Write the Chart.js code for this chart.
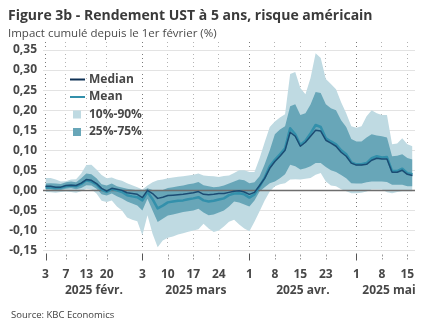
<!DOCTYPE html>
<html lang="fr">
<head>
<meta charset="utf-8">
<title>Figure 3b - Rendement UST à 5 ans, risque américain</title>
<script src="https://cdn.jsdelivr.net/npm/chart.js@4.4.1/dist/chart.umd.min.js"></script>
<style>
  html, body { margin: 0; padding: 0; background: #fff; }
  #wrap { position: relative; width: 432px; height: 334px; overflow: hidden; font-family: 'Open Sans', sans-serif; }
  #chart { position: absolute; left: 0; top: 0; }
  .title { position: absolute; left: 8px; top: 5px; font-size: 14px; font-weight: 700; color: #3a3a3a; white-space: nowrap; line-height: normal; }
  .subtitle { position: absolute; left: 8px; top: 25px; font-size: 11.5px; color: #4a4a4a; white-space: nowrap; line-height: normal; }
  .source { position: absolute; left: 11px; top: 308px; font-size: 9.5px; color: #404040; white-space: nowrap; line-height: normal; }
</style>
</head>
<body>
<div id="wrap">
  <canvas id="chart" width="432" height="334"></canvas>
  <div class="title">Figure 3b - Rendement UST à 5 ans, risque américain</div>
  <div class="subtitle">Impact cumulé depuis le 1er février (%)</div>
  <div class="source">Source: KBC Economics</div>
</div>
<script>
// ---------------------------------------------------------------------------
// Data: trading days (US bond market) and the distribution of the impact
// ---------------------------------------------------------------------------
const dates = [
  '2025-02-03', '2025-02-04', '2025-02-05', '2025-02-06', '2025-02-07',
  '2025-02-10', '2025-02-11', '2025-02-12', '2025-02-13', '2025-02-14',
  '2025-02-18', '2025-02-19', '2025-02-20', '2025-02-21', '2025-02-24',
  '2025-02-25', '2025-02-26', '2025-02-27', '2025-02-28',
  '2025-03-03', '2025-03-04', '2025-03-05', '2025-03-06', '2025-03-07',
  '2025-03-10', '2025-03-11', '2025-03-12', '2025-03-13', '2025-03-14',
  '2025-03-17', '2025-03-18', '2025-03-19', '2025-03-20', '2025-03-21',
  '2025-03-24', '2025-03-25', '2025-03-26', '2025-03-27', '2025-03-28',
  '2025-03-31',
  '2025-04-01', '2025-04-02', '2025-04-03', '2025-04-04', '2025-04-07',
  '2025-04-08', '2025-04-09', '2025-04-10', '2025-04-11', '2025-04-14',
  '2025-04-15', '2025-04-16', '2025-04-17', '2025-04-21', '2025-04-22',
  '2025-04-23', '2025-04-24', '2025-04-25', '2025-04-28', '2025-04-29',
  '2025-04-30',
  '2025-05-01', '2025-05-02', '2025-05-05', '2025-05-06', '2025-05-07',
  '2025-05-08', '2025-05-09', '2025-05-12', '2025-05-13', '2025-05-14',
  '2025-05-15', '2025-05-16'
];

// days that get a label on the x axis
const tickDates = [
  '2025-02-03', '2025-02-07', '2025-02-13', '2025-02-20',
  '2025-03-03', '2025-03-10', '2025-03-17', '2025-03-24',
  '2025-04-01', '2025-04-08', '2025-04-15', '2025-04-23',
  '2025-05-01', '2025-05-08', '2025-05-15'
];
const monthStarts = ['2025-02-03', '2025-03-03', '2025-04-01', '2025-05-01'];
const monthLabels = ['2025 févr.', '2025 mars', '2025 avr.', '2025 mai'];

const yTickValues = [-0.15, -0.10, -0.05, 0, 0.05, 0.10, 0.15, 0.20, 0.25, 0.30, 0.35];

const p10 = [
  -0.004, -0.005, -0.006, -0.004, -0.003, -0.004, -0.006, -0.002, 0.004, 0.002,
  -0.008, -0.026, -0.029, -0.025, -0.040, -0.050, -0.068, -0.073, -0.077, -0.112,
  -0.062, -0.108, -0.142, -0.125, -0.118, -0.115, -0.110, -0.107, -0.103, -0.100,
  -0.097, -0.083, -0.095, -0.104, -0.100, -0.090, -0.078, -0.073, -0.085, -0.095,
  -0.102, -0.078, -0.052, -0.025, -0.003, 0.010, 0.015, 0.018, 0.027, 0.028,
  0.027, 0.029, 0.031, 0.039, 0.043, 0.022, 0.012, 0.010, 0.003, -0.002,
  -0.007, -0.007, -0.006, -0.003, 0.002, 0.002, 0.002, -0.005, -0.007, -0.004,
  -0.002, -0.002, -0.002
];
const p25 = [
  0.002, 0.002, 0.000, 0.001, 0.004, 0.005, 0.003, 0.006, 0.013, 0.012,
  0.004, -0.010, -0.013, -0.008, -0.015, -0.020, -0.028, -0.033, -0.038, -0.050,
  -0.021, -0.050, -0.079, -0.071, -0.063, -0.060, -0.057, -0.054, -0.052, -0.050,
  -0.046, -0.055, -0.062, -0.060, -0.055, -0.050, -0.040, -0.028, -0.030, -0.035,
  -0.040, -0.025, -0.003, 0.008, 0.018, 0.022, 0.030, 0.040, 0.064, 0.060,
  0.052, 0.055, 0.060, 0.068, 0.068, 0.058, 0.050, 0.046, 0.038, 0.030,
  0.018, 0.017, 0.017, 0.020, 0.022, 0.022, 0.022, 0.021, 0.014, 0.014,
  0.014, 0.010, 0.010
];
const median = [
  0.010, 0.010, 0.008, 0.008, 0.012, 0.013, 0.012, 0.018, 0.027, 0.025,
  0.017, 0.005, -0.002, 0.005, 0.003, 0.000, -0.006, -0.008, -0.010, -0.018,
  0.000, -0.008, -0.020, -0.017, -0.013, -0.012, -0.011, -0.010, -0.008, -0.006,
  -0.003, -0.010, -0.011, -0.010, -0.008, -0.008, -0.005, -0.002, -0.001, -0.004,
  -0.010, -0.005, 0.012, 0.030, 0.055, 0.072, 0.085, 0.100, 0.145, 0.135,
  0.110, 0.120, 0.135, 0.150, 0.148, 0.125, 0.118, 0.110, 0.095, 0.085,
  0.068, 0.063, 0.063, 0.065, 0.075, 0.080, 0.078, 0.078, 0.045, 0.045,
  0.050, 0.040, 0.037
];
const mean = [
  0.007, 0.008, 0.006, 0.007, 0.010, 0.012, 0.010, 0.016, 0.025, 0.022,
  0.015, 0.002, -0.004, 0.003, 0.000, -0.004, -0.012, -0.015, -0.017, -0.025,
  -0.004, -0.022, -0.045, -0.038, -0.030, -0.028, -0.026, -0.025, -0.022, -0.020,
  -0.017, -0.025, -0.028, -0.026, -0.023, -0.020, -0.012, -0.008, -0.007, -0.010,
  -0.018, -0.010, 0.010, 0.032, 0.060, 0.076, 0.090, 0.105, 0.155, 0.140,
  0.113, 0.124, 0.142, 0.163, 0.158, 0.130, 0.122, 0.115, 0.100, 0.090,
  0.070, 0.065, 0.065, 0.068, 0.080, 0.085, 0.082, 0.083, 0.048, 0.048,
  0.054, 0.043, 0.040
];
const p75 = [
  0.017, 0.018, 0.017, 0.016, 0.020, 0.022, 0.020, 0.030, 0.042, 0.040,
  0.030, 0.015, 0.012, 0.017, 0.010, 0.007, 0.004, 0.002, 0.000, -0.002,
  0.005, 0.001, -0.001, 0.001, 0.006, 0.008, 0.010, 0.012, 0.015, 0.017,
  0.021, 0.013, 0.010, 0.008, 0.009, 0.012, 0.017, 0.022, 0.027, 0.025,
  0.018, 0.020, 0.035, 0.065, 0.100, 0.140, 0.152, 0.160, 0.210, 0.215,
  0.188, 0.192, 0.214, 0.245, 0.243, 0.215, 0.205, 0.200, 0.175, 0.158,
  0.128, 0.122, 0.122, 0.132, 0.140, 0.137, 0.135, 0.132, 0.085, 0.086,
  0.090, 0.081, 0.077
];
const p90 = [
  0.031, 0.031, 0.027, 0.022, 0.023, 0.027, 0.028, 0.042, 0.063, 0.064,
  0.052, 0.038, 0.030, 0.032, 0.027, 0.024, 0.018, 0.013, 0.008, 0.002,
  0.012, 0.020, 0.025, 0.027, 0.030, 0.032, 0.034, 0.035, 0.037, 0.039,
  0.042, 0.037, 0.036, 0.035, 0.033, 0.036, 0.037, 0.043, 0.050, 0.050,
  0.046, 0.046, 0.080, 0.120, 0.158, 0.172, 0.182, 0.190, 0.290, 0.295,
  0.255, 0.240, 0.280, 0.342, 0.330, 0.278, 0.265, 0.252, 0.220, 0.192,
  0.160, 0.156, 0.160, 0.185, 0.200, 0.192, 0.188, 0.188, 0.115, 0.117,
  0.130, 0.115, 0.110
];

// ---------------------------------------------------------------------------
// Styling
// ---------------------------------------------------------------------------
const FONT = "'Open Sans', sans-serif";
const TEXT_COLOR = '#474747';
const LIGHT_BAND = '#bfdae2';
const DARK_BAND = '#68a6b8';
const MEAN_COLOR = '#3390ab';
const MEDIAN_COLOR = '#1b4c73';
const NONE = 'rgba(0,0,0,0)';

function dayLabel(d) {
  return String(parseInt(d.slice(8), 10));
}

// Zero line over the bands, tick marks, month names and the legend
const decorations = {
  id: 'decorations',
  afterDatasetDraw(chart, args) {
    // dataset 3 is the last band drawn; the zero line goes right after it
    if (args.index !== 3) return;
    const { ctx, chartArea } = chart;
    const y = Math.round(chart.scales.y.getPixelForValue(0)) + 0.5;
    ctx.save();
    ctx.strokeStyle = '#6e6e6e';
    ctx.lineWidth = 1.5;
    ctx.beginPath();
    ctx.moveTo(chartArea.left, y);
    ctx.lineTo(chartArea.right, y);
    ctx.stroke();
    ctx.restore();
  },
  afterDraw(chart) {
    const { ctx, chartArea } = chart;
    const xs = chart.scales.x;
    ctx.save();

    // small tick marks under the plot
    tickDates.forEach(d => {
      const px = Math.round(xs.getPixelForValue(dates.indexOf(d))) + 0.5;
      const major = monthStarts.includes(d);
      ctx.strokeStyle = major ? '#555555' : '#9a9a9a';
      ctx.lineWidth = 1;
      ctx.setLineDash(major ? [] : [2, 1.5]);
      ctx.beginPath();
      ctx.moveTo(px, chartArea.bottom + (major ? 3 : 4));
      ctx.lineTo(px, chartArea.bottom + (major ? 10 : 9));
      ctx.stroke();
    });
    ctx.setLineDash([]);

    // month names centred under each month
    ctx.fillStyle = TEXT_COLOR;
    ctx.font = 'bold 12px ' + FONT;
    ctx.textAlign = 'center';
    ctx.textBaseline = 'middle';
    monthStarts.forEach((d, k) => {
      const from = dates.indexOf(d);
      const to = k + 1 < monthStarts.length ? dates.indexOf(monthStarts[k + 1]) : dates.length;
      const cx = (xs.getPixelForValue(from) + xs.getPixelForValue(to)) / 2;
      ctx.fillText(monthLabels[k], cx + (k === monthStarts.length - 1 ? 2 : 0), chartArea.bottom + 40);
    });

    // legend in the top-left corner of the plot
    const ds = chart.data.datasets;
    const entries = [5, 4, 1, 3];
    const lx = chartArea.left + 27;
    ctx.textAlign = 'left';
    entries.forEach((idx, row) => {
      const item = ds[idx];
      const cy = chartArea.top + 37.5 + row * 17.5;
      if (item.fill) {
        ctx.fillStyle = item.backgroundColor;
        ctx.fillRect(lx + 3, cy - 4, 8, 8);
      } else {
        ctx.strokeStyle = idx === 5 ? '#0f3155' : item.borderColor;
        ctx.lineWidth = 2;
        ctx.beginPath();
        ctx.moveTo(lx, cy);
        ctx.lineTo(lx + 15, cy);
        ctx.stroke();
      }
      ctx.fillStyle = TEXT_COLOR;
      ctx.fillText(item.label, lx + 19, cy);
    });
    ctx.restore();
  }
};

const chart = new Chart(document.getElementById('chart'), {
  type: 'line',
  data: {
    labels: dates,
    datasets: [
      { label: 'p10', data: p10, borderColor: NONE, borderWidth: 1, fill: false, order: 5 },
      { label: '10%-90%', data: p90, borderColor: NONE, borderWidth: 1, backgroundColor: LIGHT_BAND, fill: '-1', order: 4 },
      { label: 'p25', data: p25, borderColor: NONE, borderWidth: 1, fill: false, order: 3 },
      { label: '25%-75%', data: p75, borderColor: NONE, borderWidth: 1, backgroundColor: DARK_BAND, fill: '-1', order: 2 },
      { label: 'Mean', data: mean, borderColor: MEAN_COLOR, borderWidth: 2.5, fill: false, order: 1 },
      { label: 'Median', data: median, borderColor: MEDIAN_COLOR, borderWidth: 1.5, fill: false, order: 0 }
    ]
  },
  options: {
    responsive: false,
    animation: false,
    devicePixelRatio: 1,
    elements: {
      point: { radius: 0, hoverRadius: 0 },
      line: { tension: 0, borderJoinStyle: 'round' }
    },
    layout: { padding: { top: 42, right: 17, left: 0, bottom: 0 } },
    plugins: {
      legend: { display: false },
      tooltip: { enabled: false }
    },
    scales: {
      x: {
        type: 'category',
        offset: true,
        border: { display: false, dash: [1, 3] },
        grid: {
          offset: false,
          drawTicks: false,
          lineWidth: ctx => tickDates.includes(dates[ctx.index]) ? 1 : 0,
          color: ctx => monthStarts.includes(dates[ctx.index]) ? '#7a7a7a' : '#b4b4b4'
        },
        ticks: {
          autoSkip: false,
          maxRotation: 0,
          padding: 17,
          color: TEXT_COLOR,
          font: { family: FONT, size: 12, weight: 'bold' },
          callback: (v, i) => tickDates.includes(dates[i]) ? dayLabel(dates[i]) : ''
        },
        afterFit: scale => { scale.height = 83.5; }
      },
      y: {
        min: -0.15,
        max: 0.37,
        border: { display: false },
        afterBuildTicks: scale => { scale.ticks = yTickValues.map(v => ({ value: v })); },
        afterFit: scale => { scale.width = 43; },
        grid: {
          drawTicks: false,
          lineWidth: 1,
          color: ctx => ctx.tick && ctx.tick.value === 0 ? NONE : '#e3e3e3'
        },
        ticks: {
          padding: 6,
          color: TEXT_COLOR,
          font: { family: FONT, size: 12, weight: 'bold' },
          callback: v => v.toFixed(2).replace('.', ',')
        }
      }
    }
  },
  plugins: [decorations]
});
</script>
</body>
</html>
